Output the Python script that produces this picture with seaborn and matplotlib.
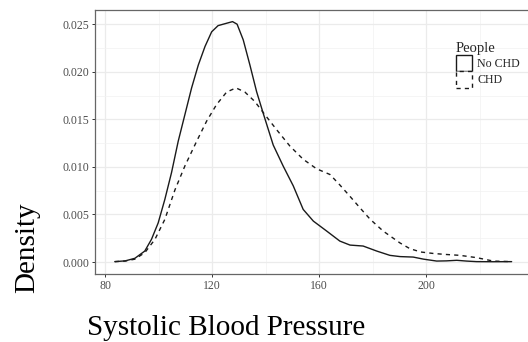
import numpy as np
import pandas as pd
import matplotlib
matplotlib.use("Agg")
import matplotlib.pyplot as plt
from matplotlib.patches import Patch
from matplotlib.ticker import MultipleLocator
import seaborn as sns

# ---- data ----
people = ["No CHD", "CHD"]

sbp_no_chd = [83.6, 87.5, 91.1, 94.8, 97.3, 99.8, 102.3, 104.8, 107.3, 109.8,
              112.3, 114.8, 117.3, 119.8, 122.2, 125.4, 127.6, 129.3, 131.6,
              134.1, 136.6, 139.1, 142.8, 146.5, 150.3, 154.0, 157.8, 162.8,
              167.7, 171.5, 176.4, 181.5, 186.4, 190.2, 195.1, 199.0, 203.9,
              207.5, 211.4, 215.0, 218.8, 225.0, 231.9]
dens_no_chd = [0.00004, 0.00012, 0.00039, 0.00115, 0.00238, 0.0041, 0.00658,
               0.0094, 0.0127, 0.0155, 0.0183, 0.0207, 0.02265, 0.0242, 0.02485,
               0.0251, 0.02527, 0.0250, 0.02335, 0.0207, 0.0179, 0.0156, 0.0123,
               0.0101, 0.0080, 0.00553, 0.0043, 0.00325, 0.0022, 0.00178,
               0.00168, 0.00115, 0.0007, 0.00057, 0.00052, 0.0003, 0.0001,
               0.00012, 0.00018, 0.0001, 0.00004, 0.00003, 0.00004]

sbp_chd = [83.6, 87.5, 91.1, 94.8, 98.6, 102.3, 106.1, 109.8, 114.2, 117.9,
           121.6, 125.4, 128.9, 132.2, 135.9, 139.1, 144.1, 149.0, 154.0,
           159.0, 164.0, 167.7, 171.5, 175.2, 179.0, 183.9, 190.2, 193.9,
           198.0, 202.6, 207.0, 212.6, 218.8, 225.0, 231.9]
dens_chd = [0.00004, 0.0001, 0.0003, 0.00098, 0.00238, 0.00448, 0.0076, 0.0101,
            0.0127, 0.0148, 0.01654, 0.01787, 0.0183, 0.01787, 0.01688, 0.0157,
            0.0139, 0.0122, 0.0108, 0.0098, 0.0092, 0.0081, 0.0069, 0.0057,
            0.0045, 0.00325, 0.0020, 0.0014, 0.00105, 0.0009, 0.0008, 0.0007,
            0.00046, 0.0001, 0.00004]

x_ticks = [80, 120, 160, 200]
y_ticks = [0.000, 0.005, 0.010, 0.015, 0.020, 0.025]
y_tick_labels = ["0.000", "0.005", "0.010", "0.015", "0.020", "0.025"]

df = pd.concat([
    pd.DataFrame({"SBP": sbp_no_chd, "Density": dens_no_chd, "People": people[0]}),
    pd.DataFrame({"SBP": sbp_chd, "Density": dens_chd, "People": people[1]}),
], ignore_index=True)

# ---- style ----
sns.set_style("whitegrid")
plt.rcParams["font.family"] = ["Liberation Serif", "DejaVu Serif"]

W, H = 528, 342
fig = plt.figure(figsize=(W / 100, H / 100), dpi=100)

xmin, xmax = 76.2, 239.3
ymin, ymax = -0.00126, 0.02646
left_px, top_px, bottom_px = 95, 10.3, 274
px_per_x = 2.675
right_px = 105.3 + (xmax - 80) * px_per_x
ax = fig.add_axes([left_px / W, 1 - bottom_px / H,
                   (right_px - left_px) / W, (bottom_px - top_px) / H])

sns.lineplot(data=df, x="SBP", y="Density", style="People",
             style_order=people, dashes={"No CHD": "", "CHD": (3, 3)},
             color="#1a1a1a", linewidth=1.0, estimator=None, sort=False,
             legend=False, ax=ax)
for ln in ax.get_lines():
    ln.set_solid_joinstyle("round")
    ln.set_dash_joinstyle("round")

ax.set_xlim(xmin, xmax)
ax.set_ylim(ymin, ymax)
ax.set_xticks(x_ticks)
ax.set_yticks(y_ticks)
ax.set_yticklabels(y_tick_labels)
ax.xaxis.set_minor_locator(MultipleLocator(20))
ax.yaxis.set_minor_locator(MultipleLocator(0.0025))

ax.set_facecolor("white")
ax.grid(which="major", color="#EBEBEB", linewidth=0.9)
ax.grid(which="minor", color="#F2F2F2", linewidth=0.5)
ax.set_axisbelow(True)
for s in ax.spines.values():
    s.set_visible(True)
    s.set_color("#666666")
    s.set_linewidth(0.9)

ax.tick_params(axis="both", which="major", length=2.2, width=0.7,
               color="#333333", labelcolor="#4D4D4D", labelsize=8.5, pad=1.8,
               bottom=True, left=True)
ax.tick_params(axis="both", which="minor", length=0)
ax.set_xlabel("")
ax.set_ylabel("")

# axis titles placed as in the reference
fig.text(226.4 / W, 1 - 335 / H, "Systolic Blood Pressure", fontsize=21,
         ha="center", va="baseline", color="black")
fig.text(34.3 / W, 1 - 247.5 / H, "Density", fontsize=21, rotation=90,
         rotation_mode="anchor", ha="center", va="baseline", color="black")

# legend with ggplot-style box keys
handles = [
    Patch(facecolor="white", edgecolor="#1a1a1a", linewidth=1.0, linestyle="-", label="No CHD"),
    Patch(facecolor="white", edgecolor="#1a1a1a", linewidth=1.0, linestyle=(0, (3, 3)), label="CHD"),
]
leg = fig.legend(handles=handles, title="People", loc="upper left",
                 bbox_to_anchor=(456 / W, 1 - 42 / H), frameon=False,
                 fontsize=8.6, title_fontsize=10.5, handlelength=1.37,
                 handleheight=1.72, handletextpad=0.4, labelspacing=0.0,
                 borderpad=0, borderaxespad=0, alignment="left")

fig.savefig("out.png", dpi=100)
